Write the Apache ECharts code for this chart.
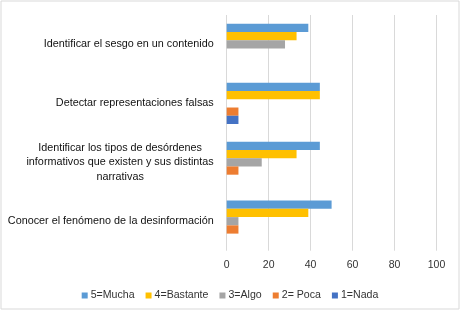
<!DOCTYPE html>
<html><head><meta charset="utf-8">
<script src="https://cdn.jsdelivr.net/npm/echarts@6/dist/echarts.min.js"></script>
<style>html,body{margin:0;padding:0;background:#fff}#c{width:460px;height:311px}</style>
</head><body><div id="c"></div>
<script>
// categories listed bottom-to-top (ECharts category axis order)
const categories = [
  'Conocer el fenómeno de la desinformación',
  'Identificar los tipos de desórdenes\ninformativos que existen y sus distintas\nnarrativas',
  'Detectar representaciones falsas',
  'Identificar el sesgo en un contenido'
];
const seriesNames = ['5=Mucha', '4=Bastante', '3=Algo', '2= Poca', '1=Nada'];
const mucha    = [50.0, 44.4, 44.4, 38.9];
const bastante = [38.9, 33.3, 44.4, 33.3];
const algo     = [5.6, 16.7, 0, 27.8];
const poca     = [5.6, 5.6, 5.6, 0];
const nada     = [0, 0, 5.6, 0];
const xTicks = [0, 20, 40, 60, 80, 100];
const colors = ['#5B9BD5', '#FFC000', '#A5A5A5', '#ED7D31', '#4472C4'];
const values = [mucha, bastante, algo, poca, nada];

const chart = echarts.init(document.getElementById('c'), null, {renderer: 'canvas'});
chart.setOption({
  animation: false,
  graphic: [{type: 'rect', shape: {x: 1, y: 1, width: 458, height: 308}, style: {fill: 'none', stroke: '#d9d9d9', lineWidth: 1}, silent: true}],
  grid: {left: 226.7, right: 23.5, top: 15, bottom: 60.3, containLabel: false},
  legend: {
    data: seriesNames, top: 285, left: 'center',
    itemWidth: 6, itemHeight: 6, itemGap: 11, icon: 'rect',
    textStyle: {fontFamily: 'Liberation Sans', fontSize: 10.6, color: '#333', padding: [0, 0, 0, -2]}
  },
  xAxis: {
    type: 'value', min: xTicks[0], max: xTicks[xTicks.length - 1], interval: 20,
    axisLine: {show: false}, axisTick: {show: false},
    splitLine: {show: true, lineStyle: {color: '#d9d9d9', width: 1}},
    axisLabel: {fontFamily: 'Liberation Sans', fontSize: 10.5, color: '#333', margin: 9}
  },
  yAxis: {
    type: 'category', data: categories,
    axisLine: {show: false}, axisTick: {show: false},
    axisLabel: {
      margin: 13, fontFamily: 'Liberation Sans', fontSize: 10.8, color: '#111',
      formatter: function (v) { return v.split('\n').map(function (l) { return '{c|' + l + '}'; }).join('\n'); },
      rich: {c: {align: 'center', fontFamily: 'Liberation Sans', fontSize: 10.8, color: '#111', lineHeight: 14.5}}
    }
  },
  series: seriesNames.map(function (n, i) {
    return {name: n, type: 'bar', data: values[i], barGap: '0%', barCategoryGap: '30%', itemStyle: {color: colors[i]}};
  })
});
</script></body></html>
